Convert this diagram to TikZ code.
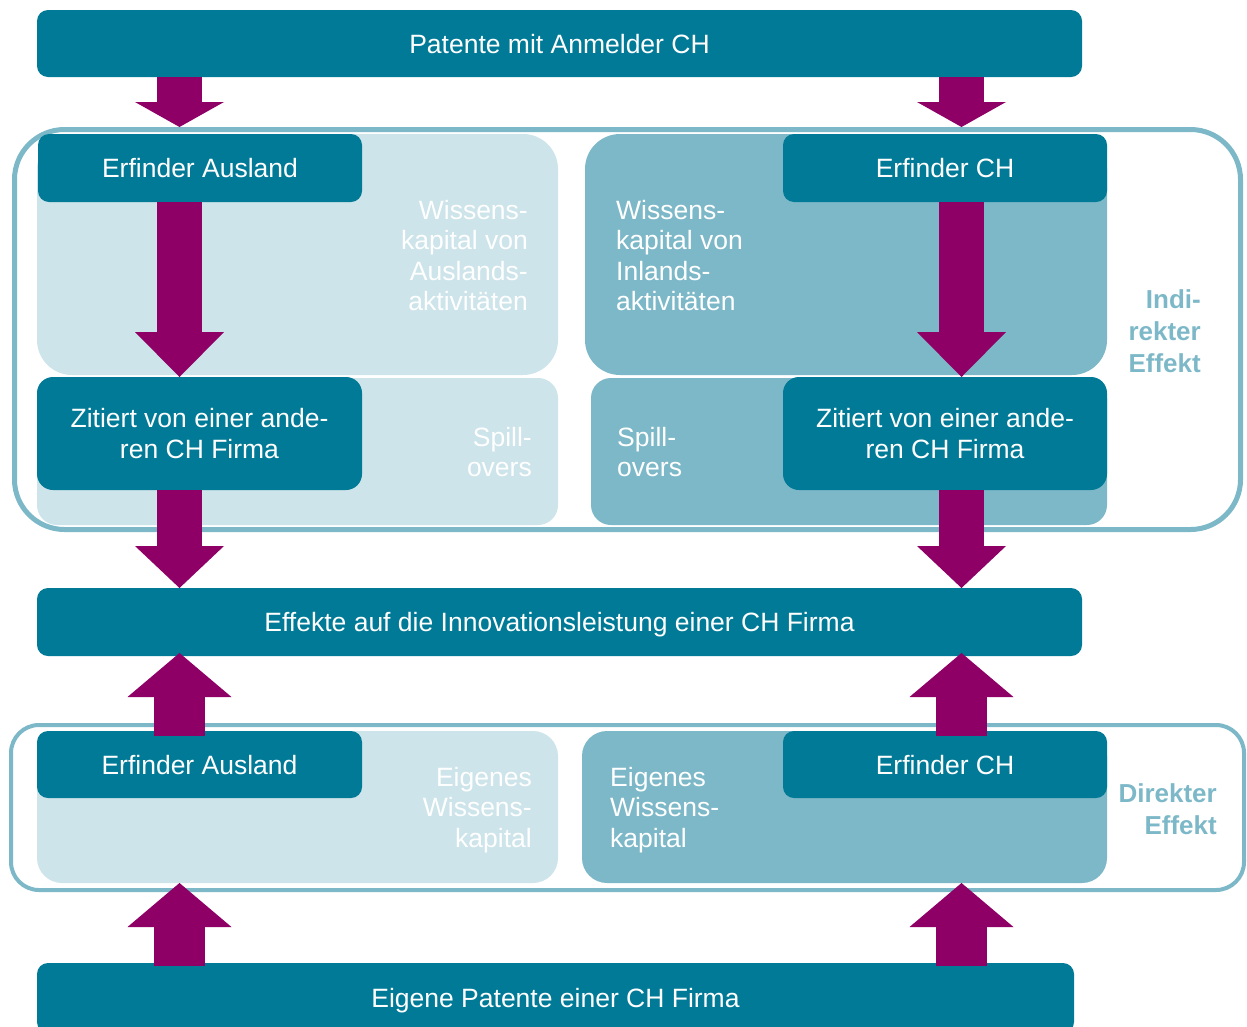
\documentclass[tikz,border=0pt]{standalone}
\usepackage{fontspec}
\setmainfont{Liberation Sans}
\usetikzlibrary{arrows.meta}
\definecolor{tealdark}{RGB}{0,122,150}
\definecolor{tealmid}{RGB}{125,184,200}
\definecolor{teallight}{RGB}{205,228,234}
\definecolor{arrowpurple}{RGB}{143,0,102}
\tikzset{darkbox/.style = {fill=tealdark, text=white, rounded corners=11pt, inner sep=0, outer sep=0, text depth=0pt, align=center, font=\fontsize{26.5}{30.5}\selectfont}}
\tikzset{softbox/.style = {fill=teallight, inner sep=0, outer sep=0}}
\tikzset{midbox/.style = {fill=tealmid, inner sep=0, outer sep=0}}
\tikzset{frame/.style = {draw=tealmid, line width=5pt, inner sep=0}}
\tikzset{lbl/.style = {text=white, inner sep=0, font=\fontsize{26.5}{30.5}\selectfont}}
\tikzset{effectlbl/.style = {text=tealmid, inner sep=0, align=right, anchor=east, font=\fontsize{26}{32}\selectfont\bfseries}}
\tikzset{fatdown/.style = {arrowpurple, line width=45pt, -{Triangle[width=89pt, length=#1, line width=0pt]}}}
\tikzset{fatup/.style = {arrowpurple, line width=51pt, -{Triangle[width=104pt, length=44pt, line width=0pt]}}}

\begin{document}
\begin{tikzpicture}[x=1pt, y=-1pt]
        \useasboundingbox (0,0) rectangle (1247,1026);
        % frames of the two effects
        \node[frame, rounded corners=50pt, minimum width=1226, minimum height=400] (ind) at (627.5,329.5) {};
        \node[frame, line width=4pt, rounded corners=28pt, minimum width=1233, minimum height=165] (dir) at (627.5,807.5) {};
        % knowledge capital areas
        \node[softbox, rounded corners=35pt, minimum width=521, minimum height=241] (wka) at (297.5,254.5) {};
        \node[midbox, rounded corners=35pt, minimum width=522, minimum height=241] (wki) at (846,254.5) {};
        \node[softbox, rounded corners=20pt, minimum width=521, minimum height=147] (spa) at (297.5,451.5) {};
        \node[midbox, rounded corners=20pt, minimum width=516, minimum height=147] (spi) at (849,451.5) {};
        \node[softbox, rounded corners=25pt, minimum width=521, minimum height=152] (eia) at (297.5,807) {};
        \node[midbox, rounded corners=25pt, minimum width=525, minimum height=152] (eii) at (844.5,807) {};
        % dark boxes
        \node[darkbox, minimum width=1045, minimum height=67] (top) at (559.5,43.5) {Patente mit Anmelder CH};
        \node[darkbox, minimum width=324, minimum height=68] (ea1) at (200,168) {Erfinder Ausland};
        \node[darkbox, minimum width=324, minimum height=68] (ech1) at (945,168) {Erfinder CH};
        \node[darkbox, rounded corners=16pt, minimum width=325, minimum height=113] (z1) at (199.5,433.5) {Zitiert von einer ande-\\ren CH Firma};
        \node[darkbox, rounded corners=16pt, minimum width=324, minimum height=113] (z2) at (945,433.5) {Zitiert von einer ande-\\ren CH Firma};
        \node[darkbox, minimum width=1045, minimum height=68] (eff) at (559.5,622) {Effekte auf die Innovationsleistung einer CH Firma};
        \node[darkbox, minimum width=325, minimum height=67] (ea2) at (199.5,764.5) {Erfinder Ausland};
        \node[darkbox, minimum width=324, minimum height=67] (ech2) at (945,764.5) {Erfinder CH};
        \node[darkbox, minimum width=1037, minimum height=70] (bot) at (555.5,998) {Eigene Patente einer CH Firma};
        % labels
        \node[lbl, anchor=east, align=right] (twka) at (528,255.5) {Wissens-\\kapital von\\Auslands-\\aktivitäten};
        \node[lbl, anchor=west, align=left] (twki) at (616,255.5) {Wissens-\\kapital von\\Inlands-\\aktivitäten};
        \node[lbl, anchor=east, align=right] (tspa) at (532,452) {Spill-\\overs};
        \node[lbl, anchor=west, align=left] (tspi) at (617,452) {Spill-\\overs};
        \node[lbl, anchor=east, align=right] (teia) at (532,810) {Eigenes\\Wissens-\\kapital};
        \node[lbl, anchor=west, align=left] (teii) at (610,810) {Eigenes\\Wissens-\\kapital};
        \node[effectlbl] (tind) at (1201,331.5) {Indi-\\rekter\\Effekt};
        \node[effectlbl] (tdir) at (1217,809.5) {Direkter\\Effekt};
        % arrows
        \coordinate (xl) at (179.5,0);
        \coordinate (xr) at (961.5,0);
        \draw[fatdown=25pt] (top.south -| xl) -- (ind.north -| xl);
        \draw[fatdown=25pt] (top.south -| xr) -- (ind.north -| xr);
        \draw[fatdown=45pt] (ea1.south -| xl) -- (z1.north -| xl);
        \draw[fatdown=45pt] (ech1.south -| xr) -- (z2.north -| xr);
        \draw[fatdown=42pt] (z1.south -| xl) -- (eff.north -| xl);
        \draw[fatdown=42pt] (z2.south -| xr) -- (eff.north -| xr);
        \draw[fatup] ([yshift=-5pt]ea2.north -| xl) -- ([yshift=3pt]eff.south -| xl);
        \draw[fatup] ([yshift=-5pt]ech2.north -| xr) -- ([yshift=3pt]eff.south -| xr);
        \draw[fatup] ([yshift=-3pt]bot.north -| xl) -- (eia.south -| xl);
        \draw[fatup] ([yshift=-3pt]bot.north -| xr) -- (eii.south -| xr);
    \end{tikzpicture}
\end{document}
